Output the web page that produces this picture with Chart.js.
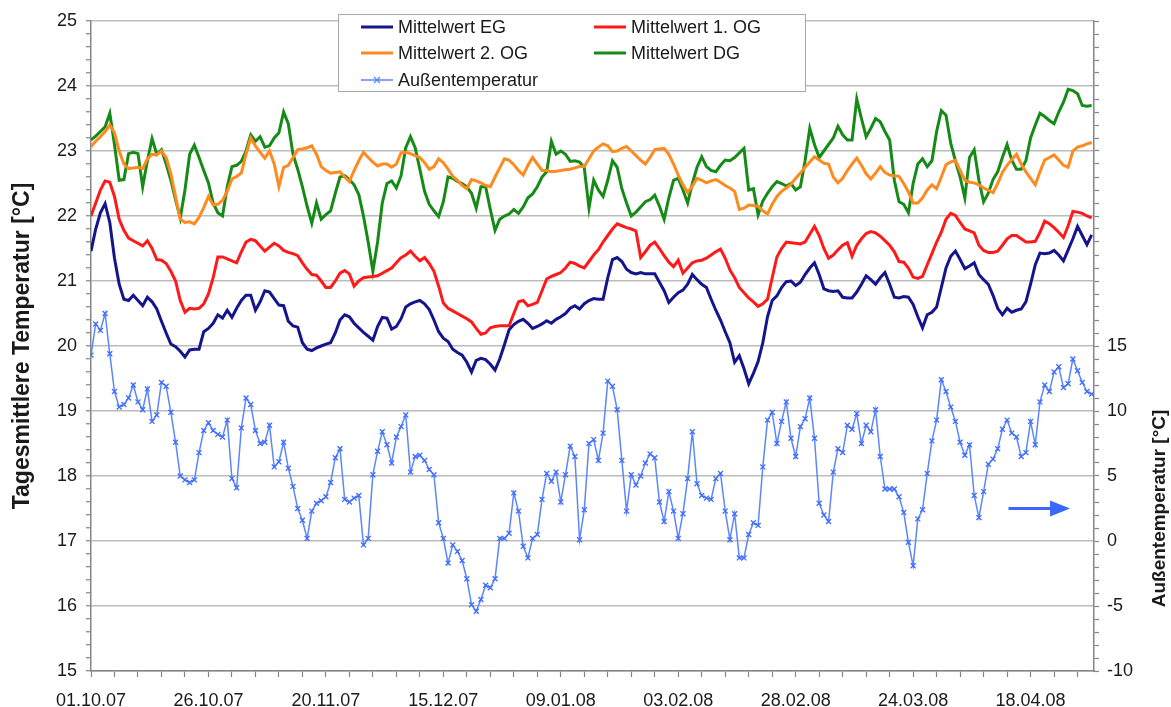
<!doctype html>
<html lang="de">
<head>
<meta charset="utf-8">
<title>Tagesmittlere Temperatur</title>
<script src="https://cdn.jsdelivr.net/npm/chart.js@4.4.0/dist/chart.umd.min.js"></script>
<style>
  html, body { margin: 0; padding: 0; background: #fff; }
  #wrap { position: relative; width: 1171px; height: 707px; }
</style>
</head>
<body>
<div id="wrap"><canvas id="chart"></canvas></div>
<script>
  // x = Tage ab 01.10.07, Beschriftung alle 25 Tage
  const dayTickLabels = ['01.10.07', '26.10.07', '20.11.07', '15.12.07', '09.01.08',
                         '03.02.08', '28.02.08', '24.03.08', '18.04.08'];
  const labelEvery = 25;

  const seriesNames = ['Mittelwert EG', 'Mittelwert 1. OG', 'Mittelwert 2. OG', 'Mittelwert DG', 'Außentemperatur'];

  const mittelEG = [
    21.46, 21.8, 22.05, 22.19, 21.9, 21.35, 20.95, 20.72, 20.70, 20.78,
    20.70, 20.62, 20.75, 20.68, 20.57, 20.38, 20.2, 20.03, 19.99, 19.92,
    19.83, 19.94, 19.95, 19.95, 20.22, 20.27, 20.35, 20.48, 20.43, 20.55,
    20.44, 20.58, 20.7, 20.78, 20.78, 20.55, 20.68, 20.85, 20.83, 20.73,
    20.63, 20.62, 20.38, 20.31, 20.29, 20.05, 19.95, 19.93, 19.97, 20.0,
    20.03, 20.05, 20.2, 20.4, 20.48, 20.45, 20.35, 20.28, 20.21, 20.15,
    20.09, 20.3, 20.44, 20.43, 20.26, 20.3, 20.42, 20.6, 20.65, 20.68,
    20.70, 20.65, 20.56, 20.4, 20.22, 20.12, 20.07, 19.95, 19.9, 19.86,
    19.75, 19.60, 19.78, 19.81, 19.79, 19.72, 19.63, 19.8, 20.02, 20.25,
    20.33, 20.38, 20.41, 20.35, 20.27, 20.3, 20.34, 20.39, 20.35, 20.41,
    20.45, 20.5, 20.58, 20.62, 20.57, 20.65, 20.7, 20.73, 20.72, 20.72,
    21.05, 21.33, 21.36, 21.3, 21.18, 21.13, 21.11, 21.13, 21.11, 21.11,
    21.11, 20.98, 20.85, 20.67, 20.75, 20.82, 20.86, 20.95, 21.1, 21.02,
    20.95, 20.9, 20.72, 20.55, 20.4, 20.22, 20.05, 19.75, 19.85, 19.65,
    19.42, 19.58, 19.76, 20.05, 20.45, 20.7, 20.77, 20.9, 20.99, 21.0,
    20.93, 20.98, 21.1, 21.2, 21.28, 21.1, 20.88, 20.85, 20.84, 20.85,
    20.75, 20.74, 20.74, 20.83, 20.95, 21.08, 21.02, 20.95, 21.05, 21.13,
    20.95, 20.75, 20.74, 20.76, 20.75, 20.64, 20.45, 20.28, 20.48, 20.52,
    20.6, 20.9, 21.2, 21.38, 21.46, 21.33, 21.19, 21.23, 21.28, 21.1,
    21.02, 20.95, 20.78, 20.58, 20.48, 20.58, 20.52, 20.55, 20.57, 20.68,
    20.95, 21.25, 21.43, 21.42, 21.43, 21.47, 21.4, 21.31, 21.48, 21.65,
    21.84, 21.7, 21.56, 21.71
  ];

  const mittel1OG = [
    22.0, 22.2, 22.4, 22.54, 22.52, 22.3, 21.95, 21.78, 21.66, 21.62,
    21.58, 21.54, 21.62, 21.5, 21.33, 21.32, 21.27, 21.15, 21.0, 20.7,
    20.52, 20.58, 20.57, 20.58, 20.65, 20.8, 21.05, 21.37, 21.37, 21.34,
    21.31, 21.28, 21.45, 21.6, 21.64, 21.62, 21.54, 21.46, 21.52, 21.58,
    21.54, 21.47, 21.44, 21.42, 21.39, 21.28, 21.18, 21.1, 21.09, 21.0,
    20.9, 20.9, 21.0, 21.12, 21.16, 21.11, 20.92, 21.0, 21.05, 21.06,
    21.07, 21.08, 21.12, 21.16, 21.2, 21.28, 21.36, 21.4, 21.46, 21.38,
    21.31, 21.36, 21.27, 21.15, 20.92, 20.66, 20.58, 20.54, 20.5, 20.46,
    20.42, 20.37, 20.27, 20.18, 20.2, 20.28, 20.3, 20.31, 20.31, 20.31,
    20.5, 20.68, 20.7, 20.62, 20.64, 20.67, 20.85, 21.03, 21.07, 21.1,
    21.13, 21.2, 21.29, 21.27, 21.23, 21.2, 21.3, 21.4, 21.48, 21.6,
    21.7, 21.8, 21.88, 21.85, 21.82, 21.8, 21.77, 21.36, 21.45, 21.55,
    21.6, 21.5, 21.39, 21.29, 21.22, 21.32, 21.12, 21.2, 21.28, 21.31,
    21.32, 21.35, 21.4, 21.45, 21.49, 21.35, 21.17, 21.05, 20.9, 20.82,
    20.74, 20.68, 20.61, 20.65, 20.72, 21.05, 21.37, 21.5, 21.6, 21.59,
    21.58, 21.57, 21.6, 21.72, 21.84, 21.7, 21.5, 21.35, 21.4, 21.48,
    21.55, 21.59, 21.38, 21.55, 21.65, 21.73, 21.76, 21.74, 21.69, 21.62,
    21.55, 21.45, 21.3, 21.29, 21.2, 21.06, 21.04, 21.07, 21.25, 21.42,
    21.6, 21.75, 21.95, 22.04, 22.01, 21.9, 21.8, 21.77, 21.74, 21.55,
    21.47, 21.44, 21.44, 21.46, 21.55, 21.65, 21.7, 21.7, 21.65, 21.6,
    21.6, 21.61, 21.75, 21.92, 21.88, 21.82, 21.75, 21.67, 21.85, 22.07,
    22.06, 22.04, 22.0, 21.97
  ];

  const mittel2OG = [
    23.07, 23.15, 23.22, 23.3, 23.4, 23.28, 23.0, 22.8, 22.73, 22.74,
    22.75, 22.73, 22.88, 22.95, 22.94, 23.0, 22.9, 22.65, 22.3, 21.95,
    21.9, 21.91, 21.88, 21.98, 22.13, 22.3, 22.17, 22.18, 22.24, 22.38,
    22.57, 22.61, 22.66, 22.95, 23.2, 23.08, 22.98, 22.89, 23.0, 22.8,
    22.45, 22.75, 22.78, 22.9, 23.02, 23.03, 23.05, 23.08, 22.95, 22.76,
    22.7, 22.66, 22.67, 22.68, 22.6, 22.53, 22.7, 22.85, 22.98, 22.9,
    22.83, 22.77, 22.8, 22.8, 22.75, 22.8, 22.97, 22.98, 22.96, 22.93,
    22.9, 22.82, 22.72, 22.76, 22.88, 22.82, 22.72, 22.61, 22.55, 22.47,
    22.42, 22.56, 22.54, 22.51, 22.47, 22.45, 22.6, 22.74, 22.88, 22.86,
    22.79, 22.7, 22.63, 22.78, 22.9, 22.8, 22.7, 22.7, 22.68, 22.69,
    22.7, 22.71, 22.72, 22.74, 22.76, 22.76, 22.88, 23.0, 23.06, 23.11,
    23.08, 22.99, 23.0, 23.04, 23.07, 23.0, 22.93, 22.86, 22.8, 22.9,
    23.02, 23.03, 23.04, 22.95, 22.8, 22.63, 22.48, 22.36, 22.46, 22.58,
    22.55, 22.51, 22.54, 22.56, 22.52, 22.47, 22.43, 22.38, 22.1, 22.12,
    22.17, 22.16, 22.15, 22.08, 22.03, 22.18, 22.3, 22.38, 22.43, 22.49,
    22.58, 22.66, 22.75, 22.83, 22.91, 22.86, 22.81, 22.8, 22.6, 22.51,
    22.58, 22.7, 22.8, 22.89, 22.78, 22.65, 22.57, 22.66, 22.76, 22.67,
    22.63, 22.62, 22.61, 22.5, 22.37, 22.2, 22.2, 22.28, 22.4, 22.48,
    22.42, 22.6, 22.79, 22.83, 22.86, 22.7, 22.55, 22.52, 22.51, 22.48,
    22.43, 22.4, 22.36, 22.5, 22.67, 22.78, 22.87, 22.95, 22.8, 22.68,
    22.58, 22.48, 22.68, 22.86, 22.9, 22.94, 22.86, 22.78, 22.75, 23.0,
    23.06, 23.08, 23.11, 23.13
  ];

  const mittelDG = [
    23.17, 23.23, 23.3, 23.37, 23.58, 23.1, 22.55, 22.56, 22.96, 22.98,
    22.96, 22.45, 22.85, 23.19, 22.95, 23.02, 22.8, 22.55, 22.25, 21.97,
    22.4, 22.95, 23.09, 22.9, 22.7, 22.51, 22.2, 22.05, 22.0, 22.45,
    22.76, 22.78, 22.84, 23.0, 23.25, 23.15, 23.22, 23.06, 23.08, 23.2,
    23.28, 23.6, 23.42, 22.95, 22.72, 22.45, 22.15, 21.89, 22.2, 21.95,
    22.02, 22.08, 22.35, 22.6, 22.62, 22.56, 22.48, 22.33, 22.0, 21.6,
    21.15, 21.6, 22.2, 22.5, 22.54, 22.43, 22.62, 23.05, 23.22, 23.05,
    22.72, 22.38, 22.18, 22.08, 21.99, 22.22, 22.6, 22.58, 22.53, 22.5,
    22.45, 22.35, 22.12, 22.45, 22.45, 22.1, 21.78, 21.95, 22.0, 22.03,
    22.1, 22.04, 22.14, 22.28, 22.34, 22.45, 22.6, 22.68, 23.15, 22.95,
    23.0, 22.95, 22.84, 22.85, 22.83, 22.74, 22.12, 22.55, 22.4, 22.3,
    22.55, 22.85, 22.75, 22.42, 22.2, 22.0, 22.06, 22.14, 22.22, 22.25,
    22.32, 22.15, 21.95, 22.28, 22.55, 22.58, 22.4, 22.2, 22.5, 22.75,
    22.91, 22.76, 22.7, 22.68, 22.78, 22.86, 22.85, 22.9, 22.97, 23.04,
    22.4, 22.42, 22.02, 22.23, 22.35, 22.45, 22.53, 22.5, 22.46, 22.5,
    22.4, 22.45, 22.85, 23.35, 23.1, 22.9, 23.0, 23.1, 23.2, 23.38,
    23.25, 23.17, 23.17, 23.8, 23.5, 23.22, 23.35, 23.5, 23.45, 23.3,
    23.17, 22.55, 22.22, 22.18, 22.05, 22.5, 22.8, 22.88, 22.76, 22.85,
    23.3, 23.62, 23.55, 23.12, 22.85, 22.6, 22.28, 22.9, 23.02, 22.55,
    22.22, 22.35, 22.56, 22.68, 22.9, 23.1, 22.86, 22.72, 22.72, 22.85,
    23.2, 23.4, 23.58, 23.53, 23.47, 23.42, 23.6, 23.75, 23.95, 23.93,
    23.88, 23.7, 23.69, 23.70
  ];

  // Außentemperatur, rechte Achse
  const aussen = [
    14.3, 16.7, 16.2, 17.5, 14.4, 11.5, 10.3, 10.5, 11.0, 12.0,
    10.7, 10.1, 11.7, 9.2, 9.7, 12.2, 11.9, 9.9, 7.6, 5.0,
    4.7, 4.5, 4.7, 6.8, 8.5, 9.1, 8.5, 8.2, 8.0, 9.3,
    4.8, 4.1, 8.7, 11.0, 10.5, 8.5, 7.5, 7.6, 8.9, 5.7,
    6.1, 7.6, 5.6, 4.2, 2.5, 1.6, 0.2, 2.3, 2.9, 3.1,
    3.4, 4.5, 6.4, 7.1, 3.2, 3.0, 3.3, 3.5, -0.3, 0.2,
    5.1, 6.9, 8.4, 7.4, 6.0, 8.0, 8.8, 9.7, 5.3, 6.5,
    6.6, 6.2, 5.5, 5.1, 1.4, 0.2, -1.7, -0.3, -0.8, -1.5,
    -2.9, -4.9, -5.4, -4.5, -3.4, -3.6, -2.9, 0.2, 0.2, 0.6,
    3.7, 2.3, -0.4, -1.3, 0.2, 0.5, 3.2, 5.2, 4.6, 5.3,
    3.0, 5.1, 7.3, 6.5, 0.1, 2.4, 7.5, 7.8, 6.2, 8.3,
    12.3, 11.9, 10.1, 6.2, 2.3, 5.1, 4.3, 5.0, 6.0, 6.7,
    6.4, 3.0, 1.5, 3.8, 2.3, 0.2, 2.1, 4.8, 8.4, 4.4,
    3.5, 3.3, 3.2, 4.8, 5.2, 2.3, 0.1, 2.1, -1.3, -1.3,
    0.5, 1.4, 1.2, 5.7, 9.3, 9.9, 7.5, 9.2, 10.7, 7.9,
    6.5, 8.8, 9.4, 11.0, 7.9, 2.9, 2.0, 1.5, 5.3, 7.1,
    6.8, 8.9, 8.6, 9.8, 7.5, 8.9, 8.4, 10.1, 6.5, 4.0,
    4.0, 4.0, 3.4, 2.2, -0.1, -1.9, 1.7, 2.4, 5.2, 7.7,
    9.3, 12.4, 11.5, 10.3, 9.2, 7.6, 6.6, 7.4, 3.5, 1.8,
    3.8, 5.9, 6.3, 7.1, 8.6, 9.3, 8.3, 8.0, 6.5, 6.8,
    9.2, 7.4, 10.7, 12.0, 11.5, 13.0, 13.4, 11.8, 12.1, 14.0,
    13.1, 12.2, 11.5, 11.3
  ];

  const colors = ['#14148c', '#ff1a1a', '#ff8a1f', '#168a16', '#5b86ff'];

  function pts(arr) {
    return arr.map((v, i) => ({ x: i, y: v }));
  }

  function isWhole(v) {
    return Math.abs(v - Math.round(v)) < 1e-6;
  }

  const fontName = '"Liberation Sans", Arial, sans-serif';
  const txtColor = '#1a1a1a';
  const axisGray = '#858585';

  // Legende im Kasten (2 Spalten)
  const boxLegend = {
    id: 'boxLegend',
    afterDraw(chart) {
      const c = chart.ctx;
      const slots = [[361, 27], [594, 27], [361, 53], [594, 53], [361, 80]];
      c.save();
      c.fillStyle = '#fff';
      c.fillRect(338, 14, 468, 78);
      c.strokeStyle = '#a8a8a8';
      c.lineWidth = 1;
      c.strokeRect(338.5, 14.5, 467, 77);
      c.font = '18px ' + fontName;
      c.textBaseline = 'middle';
      c.textAlign = 'left';
      chart.data.datasets.forEach((ds, i) => {
        const [x, y] = slots[i];
        c.strokeStyle = ds.borderColor;
        c.lineWidth = ds.borderWidth;
        c.beginPath();
        c.moveTo(x, y);
        c.lineTo(x + 32, y);
        c.stroke();
        if (ds.pointStyle === 'crossRot') {
          c.lineWidth = 1.3;
          c.beginPath();
          c.moveTo(x + 13, y - 3); c.lineTo(x + 19, y + 3);
          c.moveTo(x + 13, y + 3); c.lineTo(x + 19, y - 3);
          c.stroke();
        }
        c.fillStyle = txtColor;
        c.fillText(ds.label, x + 37, y + 1);
      });
      c.restore();
    }
  };

  // Titel der rechten Achse und Pfeil
  const rightAxisExtras = {
    id: 'rightAxisExtras',
    afterDraw(chart) {
      const c = chart.ctx;
      const xs = chart.scales.x;
      const y2 = chart.scales.y2;
      c.save();
      const yMid = y2.getPixelForValue(2.5);
      c.translate(1160, yMid);
      c.rotate(-Math.PI / 2);
      c.font = 'bold 19px ' + fontName;
      c.fillStyle = txtColor;
      c.textAlign = 'center';
      c.textBaseline = 'middle';
      c.fillText('Außentemperatur [°C]', 0, 0);
      c.restore();

      const xa = xs.getPixelForValue(195.3);
      const xb = xs.getPixelForValue(208.4);
      const ya = y2.getPixelForValue(2.5);
      c.save();
      c.strokeStyle = '#3a68ff';
      c.fillStyle = '#3a68ff';
      c.lineWidth = 3;
      c.beginPath();
      c.moveTo(xa, ya);
      c.lineTo(xb - 16, ya);
      c.stroke();
      c.beginPath();
      c.moveTo(xb, ya);
      c.lineTo(xb - 20, ya - 8);
      c.lineTo(xb - 20, ya + 8);
      c.closePath();
      c.fill();
      c.restore();
    }
  };

  const datasets = [mittelEG, mittel1OG, mittel2OG, mittelDG].map((arr, i) => ({
    label: seriesNames[i],
    data: pts(arr),
    borderColor: colors[i],
    backgroundColor: colors[i],
    borderWidth: 3,
    pointRadius: 0,
    yAxisID: 'y'
  }));
  datasets.push({
    label: seriesNames[4],
    data: pts(aussen),
    borderColor: colors[4],
    backgroundColor: colors[4],
    borderWidth: 1.5,
    pointStyle: 'crossRot',
    pointRadius: 3.5,
    pointBorderWidth: 1.3,
    pointBorderColor: '#3f6cff',
    yAxisID: 'y2'
  });

  Chart.defaults.font.family = fontName;
  Chart.defaults.color = txtColor;

  new Chart(document.getElementById('chart'), {
    type: 'line',
    data: { datasets: datasets },
    options: {
      responsive: true,
      maintainAspectRatio: false,
      animation: false,
      devicePixelRatio: 1,
      layout: { padding: { top: 21, left: 0, right: 0, bottom: 0 } },
      plugins: {
        legend: { display: false },
        tooltip: { enabled: false }
      },
      elements: { line: { tension: 0 } },
      scales: {
        x: {
          type: 'linear',
          min: 0,
          max: 213.5,
          afterFit: s => { s.height = 36; },
          border: { color: axisGray, width: 1.5 },
          grid: { drawOnChartArea: false, tickLength: 6, tickColor: axisGray, tickWidth: 1.2 },
          ticks: {
            stepSize: 5,
            includeBounds: false,
            autoSkip: false,
            maxRotation: 0,
            padding: 13,
            font: { size: 18 },
            color: txtColor,
            callback: v => {
              const k = v / labelEvery;
              return Number.isInteger(k) && k < dayTickLabels.length ? dayTickLabels[k] : '';
            }
          }
        },
        y: {
          position: 'left',
          min: 15,
          max: 25,
          afterFit: s => { s.width = 91; },
          border: { color: axisGray, width: 1.5 },
          grid: {
            color: ctx => (ctx.tick && isWhole(ctx.tick.value)) ? '#bcbcbc' : 'rgba(0,0,0,0)',
            lineWidth: 1.5,
            tickColor: axisGray,
            tickLength: 5,
            tickWidth: 1.2
          },
          ticks: {
            stepSize: 0.2,
            autoSkip: false,
            padding: 9,
            font: { size: 18 },
            color: txtColor,
            callback: v => isWhole(v) ? String(Math.round(v)) : ''
          },
          title: {
            display: true,
            text: 'Tagesmittlere Temperatur [°C]',
            font: { size: 23, weight: 'bold' },
            color: txtColor,
            padding: { top: 9, bottom: 0 }
          }
        },
        y2: {
          position: 'right',
          min: -10,
          max: 40,
          afterFit: s => { s.width = 77; },
          border: { color: axisGray, width: 1.5 },
          grid: { drawOnChartArea: false, tickColor: axisGray, tickLength: 5, tickWidth: 1.2 },
          ticks: {
            stepSize: 1,
            autoSkip: false,
            padding: 8,
            font: { size: 18 },
            color: txtColor,
            callback: v => (v % 5 === 0 && v <= 15) ? String(v) : ''
          }
        }
      }
    },
    plugins: [boxLegend, rightAxisExtras]
  });
</script>
</body>
</html>
